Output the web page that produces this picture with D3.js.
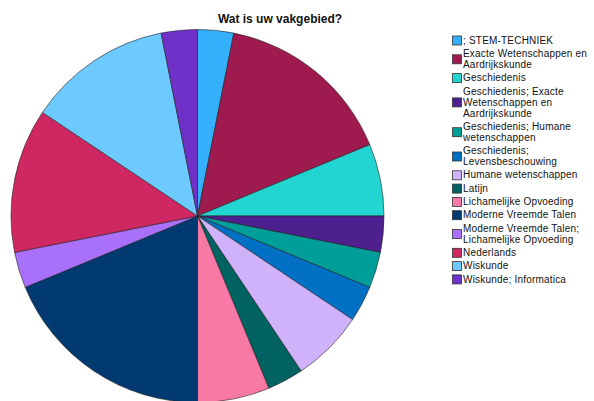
<!DOCTYPE html>
<html>
<head>
<meta charset="utf-8">
<script src="https://cdn.jsdelivr.net/npm/d3@7"></script>
<style>
  html, body { margin: 0; padding: 0; background: #fff; }
  #chart svg { display: block; }
</style>
</head>
<body>
<div id="chart"><svg></svg></div>
<script>
const WIDTH = 594;
const HEIGHT = 401;

const CENTER = { x: 197.5, y: 216 };
const RADIUS = 186.5;

const LEGEND = {
  x: 452, top: 40, box: 9, lineHeight: 11, gap: 13.3
};

// answers (count of respondents)
const categories = [
  '; STEM-TECHNIEK',
  'Exacte Wetenschappen en Aardrijkskunde',
  'Geschiedenis',
  'Geschiedenis; Exacte Wetenschappen en Aardrijkskunde',
  'Geschiedenis; Humane wetenschappen',
  'Geschiedenis; Levensbeschouwing',
  'Humane wetenschappen',
  'Latijn',
  'Lichamelijke Opvoeding',
  'Moderne Vreemde Talen',
  'Moderne Vreemde Talen; Lichamelijke Opvoeding',
  'Nederlands',
  'Wiskunde',
  'Wiskunde; Informatica'
];
const counts = [1, 5, 2, 1, 1, 1, 2, 1, 2, 6, 1, 4, 4, 1];

// legend labels as they wrap in the original
const legendLines = [
  ['; STEM-TECHNIEK'],
  ['Exacte Wetenschappen en', 'Aardrijkskunde'],
  ['Geschiedenis'],
  ['Geschiedenis; Exacte', 'Wetenschappen en', 'Aardrijkskunde'],
  ['Geschiedenis; Humane', 'wetenschappen'],
  ['Geschiedenis;', 'Levensbeschouwing'],
  ['Humane wetenschappen'],
  ['Latijn'],
  ['Lichamelijke Opvoeding'],
  ['Moderne Vreemde Talen'],
  ['Moderne Vreemde Talen;', 'Lichamelijke Opvoeding'],
  ['Nederlands'],
  ['Wiskunde'],
  ['Wiskunde; Informatica']
];

const colors = [
  '#35b0fd', '#9f1a4e', '#22d5d0', '#4d1f8f', '#009e99', '#0070c5', '#d0b2fa',
  '#006362', '#f878a6', '#003a70', '#a971fb', '#ce2762', '#6dcaff', '#7031c8'
];

const data = categories.map((c, i) => ({ name: c, value: counts[i], lines: legendLines[i] }));

const color = d3.scaleOrdinal()
  .domain(categories)
  .range(colors);

const svg = d3.select('#chart svg')
  .attr('width', WIDTH)
  .attr('height', HEIGHT);

svg.append('rect')
  .attr('width', WIDTH)
  .attr('height', HEIGHT)
  .attr('fill', '#fff');

// Title
svg.append('text')
  .attr('x', 280)
  .attr('y', 23)
  .attr('text-anchor', 'middle')
  .attr('font-family', 'Liberation Sans, Arial, sans-serif')
  .attr('font-weight', 'bold')
  .attr('font-size', '12px')
  .attr('fill', '#111')
  .text('Wat is uw vakgebied?');

// Pie
const pie = d3.pie()
  .sort(null)
  .value(d => d.value);

const arc = d3.arc()
  .innerRadius(0)
  .outerRadius(RADIUS);

const slices = svg.append('g')
  .attr('class', 'slices')
  .attr('transform', `translate(${CENTER.x}, ${CENTER.y})`);

slices.selectAll('path')
  .data(pie(data))
  .enter()
  .append('path')
  .attr('d', arc)
  .attr('fill', d => color(d.data.name))
  .attr('stroke', '#222')
  .attr('stroke-width', 0.6)
  .attr('stroke-linejoin', 'round');

// Legend
const legend = svg.append('g')
  .attr('class', 'legend')
  .attr('font-family', 'Liberation Sans, Arial, sans-serif')
  .attr('font-size', '10px')
  .attr('letter-spacing', '0.2px')
  .attr('fill', '#111');

let y = LEGEND.top;
data.forEach((d) => {
  const n = d.lines.length;
  const mid = y + ((n - 1) * LEGEND.lineHeight) / 2;
  const item = legend.append('g').attr('class', 'item');

  item.append('rect')
    .attr('x', LEGEND.x + 0.5)
    .attr('y', mid - LEGEND.box / 2 + 0.5)
    .attr('width', LEGEND.box)
    .attr('height', LEGEND.box)
    .attr('fill', color(d.name))
    .attr('stroke', '#333')
    .attr('stroke-width', 0.8);

  d.lines.forEach((line, j) => {
    item.append('text')
      .attr('x', LEGEND.x + 11)
      .attr('y', y + j * LEGEND.lineHeight + 3.6)
      .text(line);
  });

  y += (n - 1) * LEGEND.lineHeight + LEGEND.gap;
});
</script>
</body>
</html>
